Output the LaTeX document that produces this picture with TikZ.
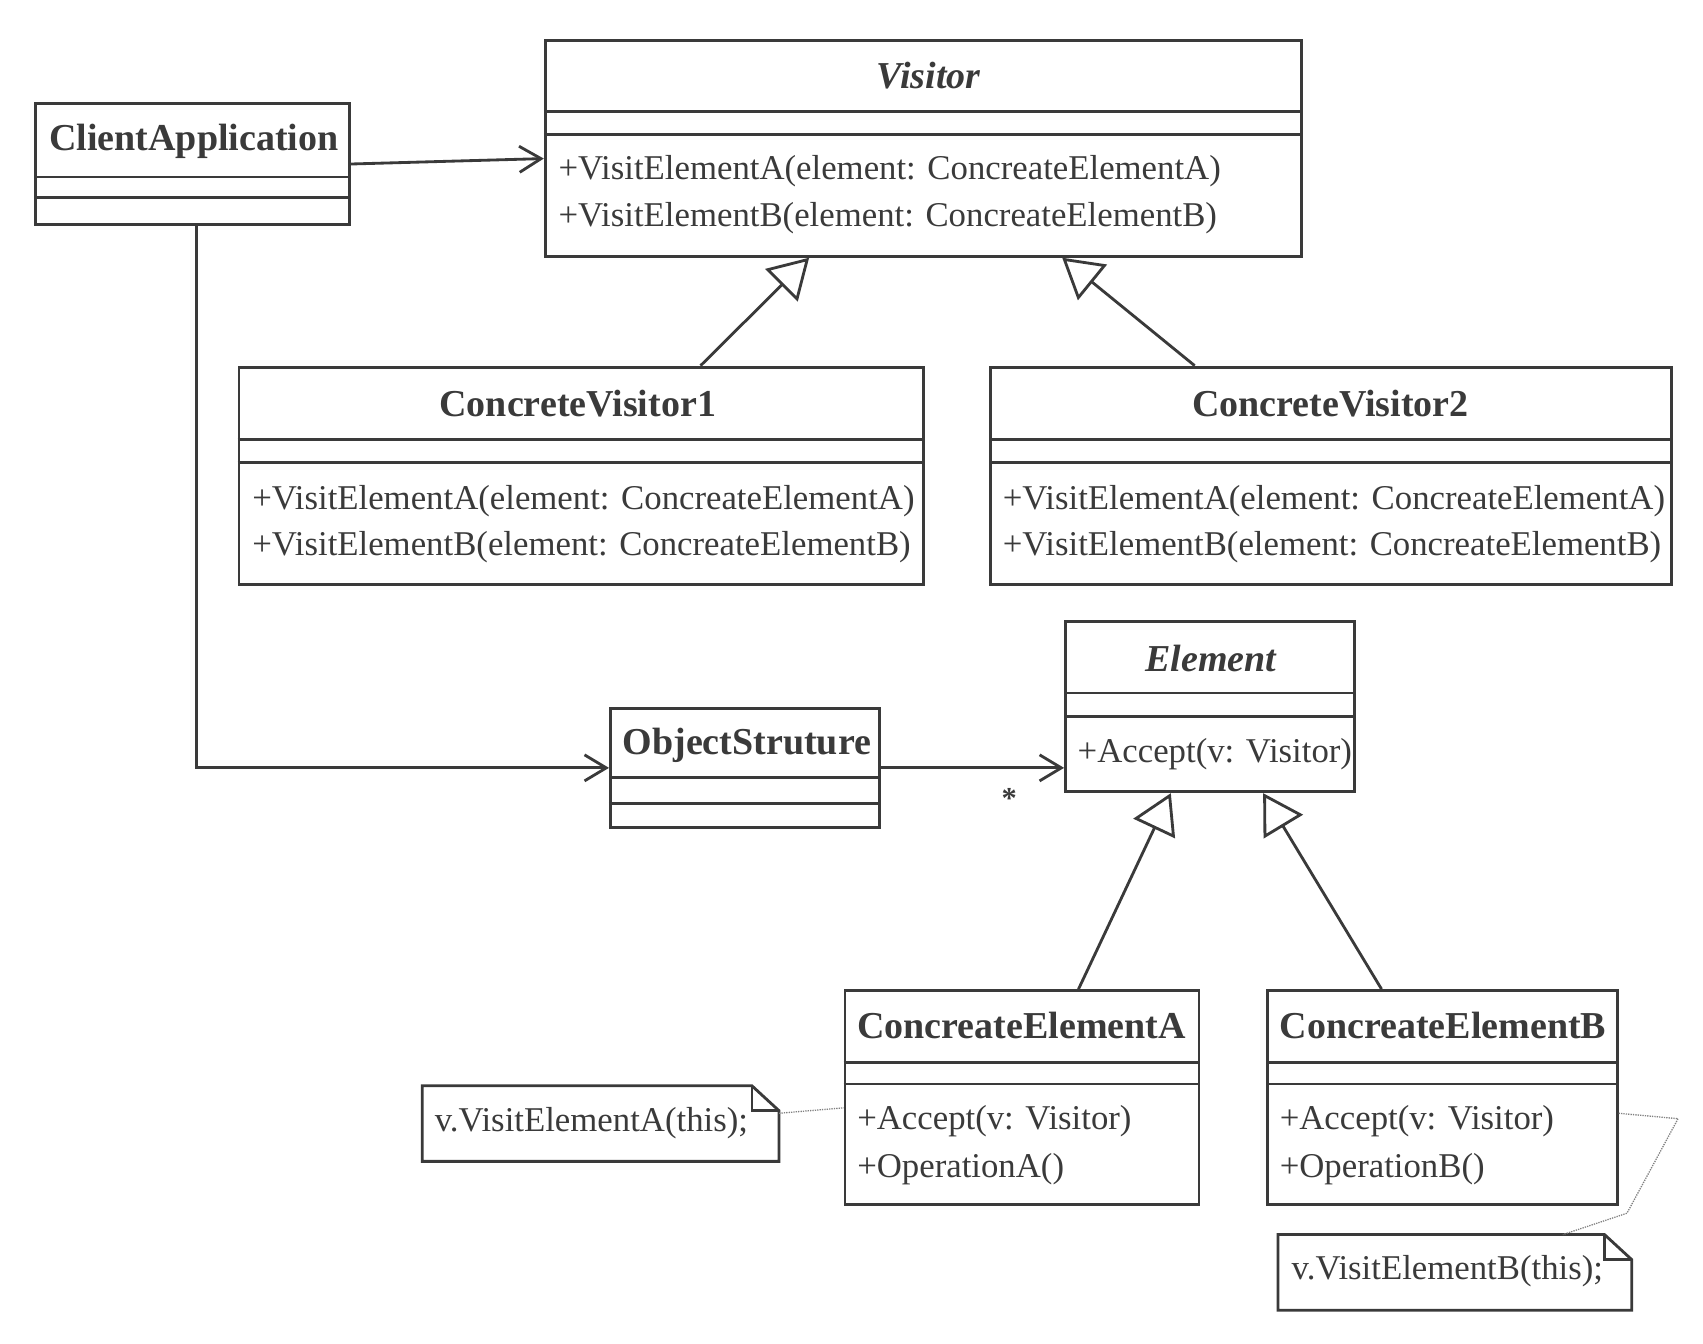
\documentclass[tikz,border=0pt]{standalone}
\usepackage{fontspec}
\setmainfont{Liberation Serif}
\usetikzlibrary{arrows.meta}
\definecolor{ink}{HTML}{3A3A3A}

\begin{document}
\begin{tikzpicture}[x=1pt, y=-1pt, line width=2.6pt, color=ink,
    cls/.style={draw, rectangle, inner sep=0pt},
    title/.style={font=\fontsize{35}{42}\selectfont\bfseries},
    abstitle/.style={font=\fontsize{35}{42}\selectfont\bfseries\itshape},
    member/.style={anchor=west, inner sep=0pt, font=\fontsize{32}{38}\selectfont},
    assoc/.style={-{Straight Barb[length=20pt, width=24pt]}},
    inherit/.style={-{Triangle[open, length=36pt, width=42pt]}},
    noteline/.style={line width=1.2pt, gray, densely dotted}]
  \useasboundingbox (0,0) rectangle (1568,1237);

  % classes
  \node[cls, minimum width=289pt, minimum height=112pt] (client) at (177.5,151) {};
  \node[cls, minimum width=696pt, minimum height=199pt] (visitor) at (850,136.5) {};
  \node[cls, minimum width=630pt, minimum height=200pt] (cv1) at (535,438) {};
  \node[cls, minimum width=627pt, minimum height=200pt] (cv2) at (1225.5,438) {};
  \node[cls, minimum width=266pt, minimum height=157pt] (element) at (1114,650.5) {};
  \node[cls, minimum width=248pt, minimum height=110pt] (objstr) at (686,707) {};
  \node[cls, minimum width=326pt, minimum height=197pt] (cea) at (941,1010.5) {};
  \node[cls, minimum width=322pt, minimum height=197pt] (ceb) at (1328,1010.5) {};

  \foreach \n/\a/\b in {client/163/182, visitor/103/124, cv1/405/426, cv2/405/426,
      element/638/660, objstr/716/740, cea/978/998, ceb/978/998}
    \draw (\n.west |- 0,\a) -- (\n.east |- 0,\a) (\n.west |- 0,\b) -- (\n.east |- 0,\b);

  % names
  \node[title, anchor=west, inner sep=0pt] (clientname) at (44,130) {ClientApplication};
  \node[abstitle] (visitorname) at (855,70) {Visitor};
  \node[title] (cv1name) at (532,372) {ConcreteVisitor1};
  \node[title] (cv2name) at (1225,372) {ConcreteVisitor2};
  \node[abstitle] (elementname) at (1115,606) {Element};
  \node[title, anchor=west, inner sep=0pt] (objstrname) at (572,686) {ObjectStruture};
  \node[title, anchor=west, inner sep=0pt] (ceaname) at (788,944) {ConcreateElementA};
  \node[title, anchor=west, inner sep=0pt] (cebname) at (1177,944) {ConcreateElementB};

  % operations
  \node[member] (va1) at (513,158) {+VisitElementA(element: ConcreateElementA)};
  \node[member] (vb1) at (513,201) {+VisitElementB(element: ConcreateElementB)};
  \node[member] (va2) at (231,461) {+VisitElementA(element: ConcreateElementA)};
  \node[member] (vb2) at (231,504) {+VisitElementB(element: ConcreateElementB)};
  \node[member] (va3) at (922,461) {+VisitElementA(element: ConcreateElementA)};
  \node[member] (vb3) at (922,504) {+VisitElementB(element: ConcreateElementB)};
  \node[member] (acc) at (991,694) {+Accept(v: Visitor)};
  \node[member] (acca) at (788,1032) {+Accept(v: Visitor)};
  \node[member] (opa) at (788,1076) {+OperationA()};
  \node[member] (accb) at (1177,1032) {+Accept(v: Visitor)};
  \node[member] (opb) at (1177,1076) {+OperationB()};

  % notes
  \node[minimum width=326pt, minimum height=67pt, inner sep=0pt] (noteA) at (553,1034.5) {};
  \node[minimum width=323pt, minimum height=67pt, inner sep=0pt] (noteB) at (1339.5,1171.5) {};
  \foreach \n in {noteA, noteB} {
    \draw (\n.south west) -- (\n.north west) -- ([xshift=-25pt]\n.north east)
      -- ([yshift=-23pt]\n.north east) -- (\n.south east) -- cycle;
    \draw ([xshift=-25pt]\n.north east) |- ([yshift=-23pt]\n.north east);
  }
  \node[member] (noteAtext) at (399,1034) {v.VisitElementA(this);};
  \node[member] (noteBtext) at (1188,1170) {v.VisitElementB(this);};

  % associations
  \draw[assoc] (client.east) -- (visitor.west |- 0,146);
  \draw[assoc] (client.south -| 181,0) |- (objstr.west);
  \draw[assoc] (objstr.east) -- (element.west |- objstr.east)
    node[pos=0.7, below=14pt, font=\fontsize{28}{28}\selectfont\bfseries] (mult) {*};

  % generalizations
  \draw[inherit] (cv1.north -| 645,0) -- (visitor.south -| 745,0);
  \draw[inherit] (cv2.north -| 1100,0) -- (visitor.south -| 978,0);
  \draw[inherit] (cea.north -| 993,0) -- (element.south -| 1078,0);
  \draw[inherit] (ceb.north -| 1272,0) -- (element.south -| 1163,0);

  % note links
  \draw[noteline] (noteA.east |- 0,1025) -- (cea.west |- 0,1020);
  \draw[noteline] (ceb.east |- 0,1025) -- (1545,1030) -- (1498,1117) -- (noteB.north -| 1439,0);
\end{tikzpicture}
\end{document}
